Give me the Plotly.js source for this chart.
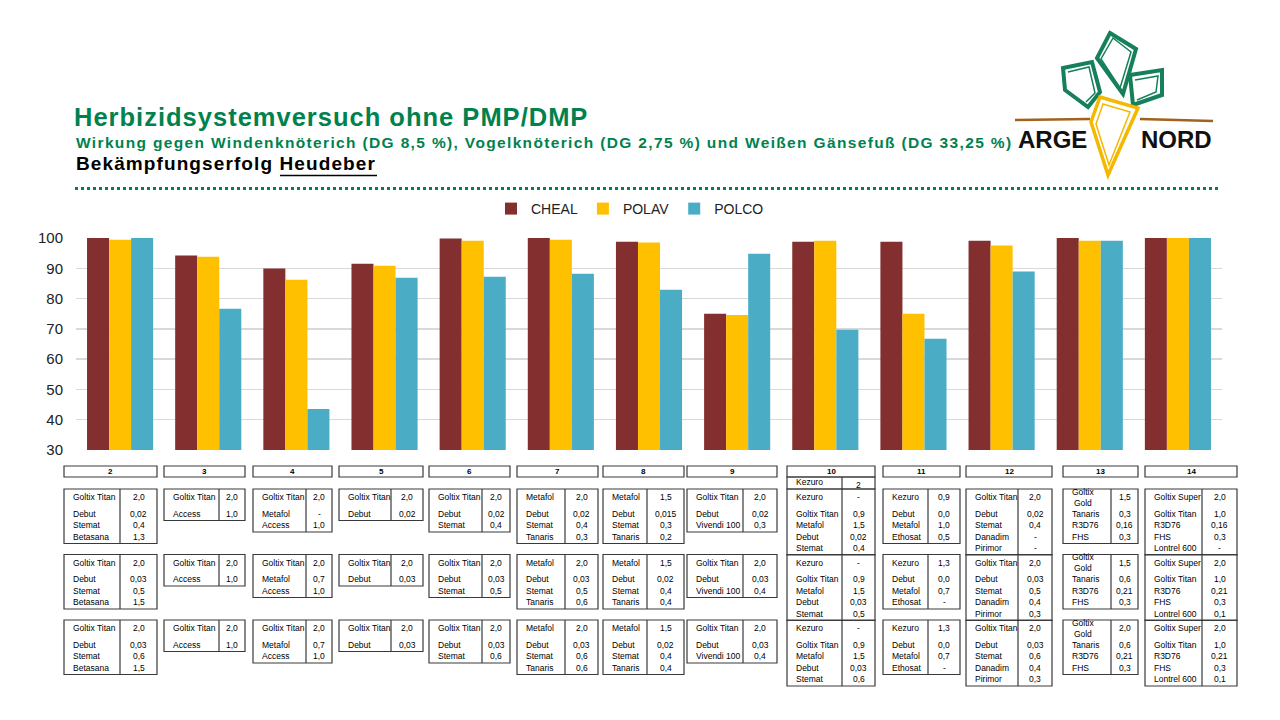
<!DOCTYPE html>
<html><head><meta charset="utf-8">
<script src="https://cdn.plot.ly/plotly-3.0.1.min.js"></script>
<style>html,body{margin:0;padding:0;background:#fff}#chart{width:1280px;height:720px}</style>
</head><body><div id="chart"></div>
<script>
// ---------- DATA ----------
const categories = ['2','3','4','5','6','7','8','9','10','11','12','13','14'];
const seriesNames = ['CHEAL','POLAV','POLCO'];
const cheal = [100, 94.2, 89.9, 91.5, 99.8, 100, 98.8, 75.0, 98.8, 98.8, 99.1, 100, 100];
const polav = [99.4, 93.8, 86.2, 90.8, 99.1, 99.4, 98.5, 74.6, 99.1, 75.0, 97.5, 99.1, 100];
const polco = [100, 76.6, 43.5, 86.9, 87.2, 88.2, 82.9, 94.8, 69.7, 66.7, 88.9, 99.1, 100];
const yTicks = [30, 40, 50, 60, 70, 80, 90, 100];

// treatment tables (three applications per variant): [product, dose]
const tables2 = [
  [['Goltix Titan','2,0'],['Debut','0,02'],['Stemat','0,4'],['Betasana','1,3']],
  [['Goltix Titan','2,0'],['Debut','0,03'],['Stemat','0,5'],['Betasana','1,5']],
  [['Goltix Titan','2,0'],['Debut','0,03'],['Stemat','0,6'],['Betasana','1,5']]];
const tables3 = [
  [['Goltix Titan','2,0'],['Access','1,0']],
  [['Goltix Titan','2,0'],['Access','1,0']],
  [['Goltix Titan','2,0'],['Access','1,0']]];
const tables4 = [
  [['Goltix Titan','2,0'],['Metafol','-'],['Access','1,0']],
  [['Goltix Titan','2,0'],['Metafol','0,7'],['Access','1,0']],
  [['Goltix Titan','2,0'],['Metafol','0,7'],['Access','1,0']]];
const tables5 = [
  [['Goltix Titan','2,0'],['Debut','0,02']],
  [['Goltix Titan','2,0'],['Debut','0,03']],
  [['Goltix Titan','2,0'],['Debut','0,03']]];
const tables6 = [
  [['Goltix Titan','2,0'],['Debut','0,02'],['Stemat','0,4']],
  [['Goltix Titan','2,0'],['Debut','0,03'],['Stemat','0,5']],
  [['Goltix Titan','2,0'],['Debut','0,03'],['Stemat','0,6']]];
const tables7 = [
  [['Metafol','2,0'],['Debut','0,02'],['Stemat','0,4'],['Tanaris','0,3']],
  [['Metafol','2,0'],['Debut','0,03'],['Stemat','0,5'],['Tanaris','0,6']],
  [['Metafol','2,0'],['Debut','0,03'],['Stemat','0,6'],['Tanaris','0,6']]];
const tables8 = [
  [['Metafol','1,5'],['Debut','0,015'],['Stemat','0,3'],['Tanaris','0,2']],
  [['Metafol','1,5'],['Debut','0,02'],['Stemat','0,4'],['Tanaris','0,4']],
  [['Metafol','1,5'],['Debut','0,02'],['Stemat','0,4'],['Tanaris','0,4']]];
const tables9 = [
  [['Goltix Titan','2,0'],['Debut','0,02'],['Vivendi 100','0,3']],
  [['Goltix Titan','2,0'],['Debut','0,03'],['Vivendi 100','0,4']],
  [['Goltix Titan','2,0'],['Debut','0,03'],['Vivendi 100','0,4']]];
const tables10 = [
  [['Kezuro','-'],['Goltix Titan','0,9'],['Metafol','1,5'],['Debut','0,02'],['Stemat','0,4']],
  [['Kezuro','-'],['Goltix Titan','0,9'],['Metafol','1,5'],['Debut','0,03'],['Stemat','0,5']],
  [['Kezuro','-'],['Goltix Titan','0,9'],['Metafol','1,5'],['Debut','0,03'],['Stemat','0,6']]];
const tables11 = [
  [['Kezuro','0,9'],['Debut','0,0'],['Metafol','1,0'],['Ethosat','0,5']],
  [['Kezuro','1,3'],['Debut','0,0'],['Metafol','0,7'],['Ethosat','-']],
  [['Kezuro','1,3'],['Debut','0,0'],['Metafol','0,7'],['Ethosat','-']]];
const tables12 = [
  [['Goltix Titan','2,0'],['Debut','0,02'],['Stemat','0,4'],['Danadim','-'],['Pirimor','-']],
  [['Goltix Titan','2,0'],['Debut','0,03'],['Stemat','0,5'],['Danadim','0,4'],['Pirimor','0,3']],
  [['Goltix Titan','2,0'],['Debut','0,03'],['Stemat','0,6'],['Danadim','0,4'],['Pirimor','0,3']]];
const tables13 = [
  [['Goltix<br>Gold','1,5'],['Tanaris','0,3'],['R3D76','0,16'],['FHS','0,3']],
  [['Goltix<br>Gold','1,5'],['Tanaris','0,6'],['R3D76','0,21'],['FHS','0,3']],
  [['Goltix<br>Gold','2,0'],['Tanaris','0,6'],['R3D76','0,21'],['FHS','0,3']]];
const tables14 = [
  [['Goltix Super','2,0'],['Goltix Titan','1,0'],['R3D76','0,16'],['FHS','0,3'],['Lontrel 600','-']],
  [['Goltix Super','2,0'],['Goltix Titan','1,0'],['R3D76','0,21'],['FHS','0,3'],['Lontrel 600','0,1']],
  [['Goltix Super','2,0'],['Goltix Titan','1,0'],['R3D76','0,21'],['FHS','0,3'],['Lontrel 600','0,1']]];
const tableGroups = [tables2,tables3,tables4,tables5,tables6,tables7,tables8,tables9,tables10,tables11,tables12,tables13,tables14];
const extraHeader10 = ['Kezuro','2'];

// ---------- LAYOUT HELPERS ----------
const W = 1280, H = 720;
const px = x => x / W;
const py = y => 1 - y / H;
const FONT = 'Liberation Sans, Arial, sans-serif';
const GREEN = '#00824F';

// table columns: [left, divider, right] in pixels
const tableCols = [[64,120,157],[164,219,245],[253,306,332],[339,391,423],[429,482,510],[517,565,598],
  [603,647,684],[687,743,777],[787,842,875],[883,928,960],[966,1018,1052],[1063,1111,1138],[1145,1202,1237]];
const rowTops = [489, 554.5, 620];
const rowOffsets = [8, 24.5, 36, 47.5, 59];

const shapes = [];
const annotations = [];
function rect(x0,y0,x1,y1,c,w){shapes.push({type:'rect',xref:'paper',yref:'paper',x0:px(x0),x1:px(x1),y0:py(y1),y1:py(y0),line:{color:c||'#3a3a3a',width:w||1.2},fillcolor:'rgba(0,0,0,0)'});}
function seg(x0,y0,x1,y1,c,w,dash){shapes.push({type:'line',xref:'paper',yref:'paper',x0:px(x0),x1:px(x1),y0:py(y0),y1:py(y1),line:{color:c||'#3a3a3a',width:w||1.2,dash:dash||'solid'}});}
function txt(x,y,t,size,anchor,color,extra){annotations.push(Object.assign({xref:'paper',yref:'paper',x:px(x),y:py(y),text:t,showarrow:false,xanchor:anchor||'left',yanchor:'middle',font:{family:FONT,size:size,color:color||'#000'}},extra||{}));}
function path(pts,color,width,close){let s='';pts.forEach((p,i)=>{s+=(i?' L ':'M ')+px(p[0])+' '+py(p[1]);});if(close)s+=' Z';shapes.push({type:'path',xref:'paper',yref:'paper',path:s,line:{color:color,width:width},fillcolor:'rgba(0,0,0,0)'});}

// tables
tableGroups.forEach((g,gi)=>{
  const [l,d,r] = tableCols[gi];
  rect(l,466,r,477);
  txt((l+r)/2,471.8,'<b>'+categories[gi]+'</b>',8,'center');
  if (categories[gi]==='10'){
    rect(l,477,r,489); seg(d,477,d,489);
    txt(l+7,482.5,extraHeader10[0],8.5,'left');
    txt((d+r)/2,485,extraHeader10[1],8.5,'center');
  }
  g.forEach((tbl,ti)=>{
    const top = rowTops[ti];
    const bottom = top + rowOffsets[tbl.length-1] + 7;
    rect(l,top,r,bottom); seg(d,top,d,bottom);
    tbl.forEach((row,ri)=>{
      const y = top + rowOffsets[ri];
      txt(l+7,y,row[0],8.5,'left');
      txt((d+r)/2,y,row[1],8.5,'center');
    });
  });
});

// headings
txt(74,143,'<span style="letter-spacing:1.35px"><b>Wirkung gegen Windenknöterich (DG 8,5 %), Vogelknöterich (DG 2,75 %) und Weißen Gänsefuß (DG 33,25 %)</b></span>',15.5,'left',GREEN);
txt(74,164,'<span style="letter-spacing:1.1px"><b>Bekämpfungserfolg Heudeber</b></span>',19,'left','#000');
seg(280,175.5,377,175.5,'#000',1.6);
seg(75,188.5,1220,188.5,GREEN,3,'dot');

// logo (ARGE NORD)
seg(1015,120,1090,119,'#A0621C',2.5);
seg(1140,119,1213,121,'#A0621C',2.5);
txt(1052,140,'<b>ARGE</b>',24,'center','#111');
txt(1176,140,'<b>NORD</b>',24,'center','#111');
const LG = '#15805A';
path([[1110,33],[1136,49],[1123,94],[1097,58]],LG,4,true);
path([[1113,38],[1131,52],[1120,88],[1101,59]],LG,1.5,true);
path([[1063,68],[1092,62],[1100,92],[1088,107],[1065,90]],LG,4,true);
path([[1068,72],[1089,67],[1095,93],[1086,102]],LG,1.5,false);
path([[1130,75],[1162,70],[1162,95],[1133,105]],LG,4,true);
path([[1135,80],[1158,76],[1156,92],[1137,100]],LG,1.5,false);
path([[1100,97],[1138,108],[1108,175],[1091,122]],'#F5B800',3.5,true);
path([[1103,104],[1130,112],[1109,165],[1096,124]],'#F5B800',1.5,true);

// ---------- TRACES ----------
const colors = ['#832F2F','#FFC000','#4BACC6'];
const values = [cheal, polav, polco];
const traces = seriesNames.map((n,i)=>({
  type:'bar', name:n, x:categories, y:values[i],
  marker:{color:colors[i], line:{width:0}}, hoverinfo:'x+y+name'
}));

const layout = {
  width: W, height: H,
  margin:{l:0,r:0,t:0,b:0,pad:0},
  paper_bgcolor:'#fff', plot_bgcolor:'#fff',
  font:{family:FONT, color:'#222'},
  title:{text:'<span style="letter-spacing:1px"><b>Herbizidsystemversuch ohne PMP/DMP</b></span>', x:px(74), xanchor:'left', xref:'paper',
         y:py(117), yanchor:'middle', yref:'container', font:{family:FONT,size:25.5,color:GREEN}},
  barmode:'group', bargap:0.25, bargroupgap:0,
  xaxis:{domain:[px(76),px(1222)], type:'category', showticklabels:false, showgrid:false,
         zeroline:false, showline:false, ticks:'', fixedrange:true},
  yaxis:{domain:[py(450),py(238)], range:[30,100], tickvals:yTicks, showgrid:true, gridcolor:'#D9D9D9',
         gridwidth:1.3, zeroline:false, showline:false, ticks:'', ticklabelstandoff:12,
         tickfont:{family:FONT,size:15,color:'#222'}, fixedrange:true},
  showlegend:true,
  legend:{orientation:'h', x:px(630), xanchor:'center', y:py(209), yanchor:'middle',
          font:{family:FONT,size:14,color:'#222'}, itemwidth:30, bgcolor:'rgba(0,0,0,0)'},
  shapes: shapes,
  annotations: annotations
};
Plotly.newPlot('chart', traces, layout, {displayModeBar:false, staticPlot:true});
</script>
</body></html>
